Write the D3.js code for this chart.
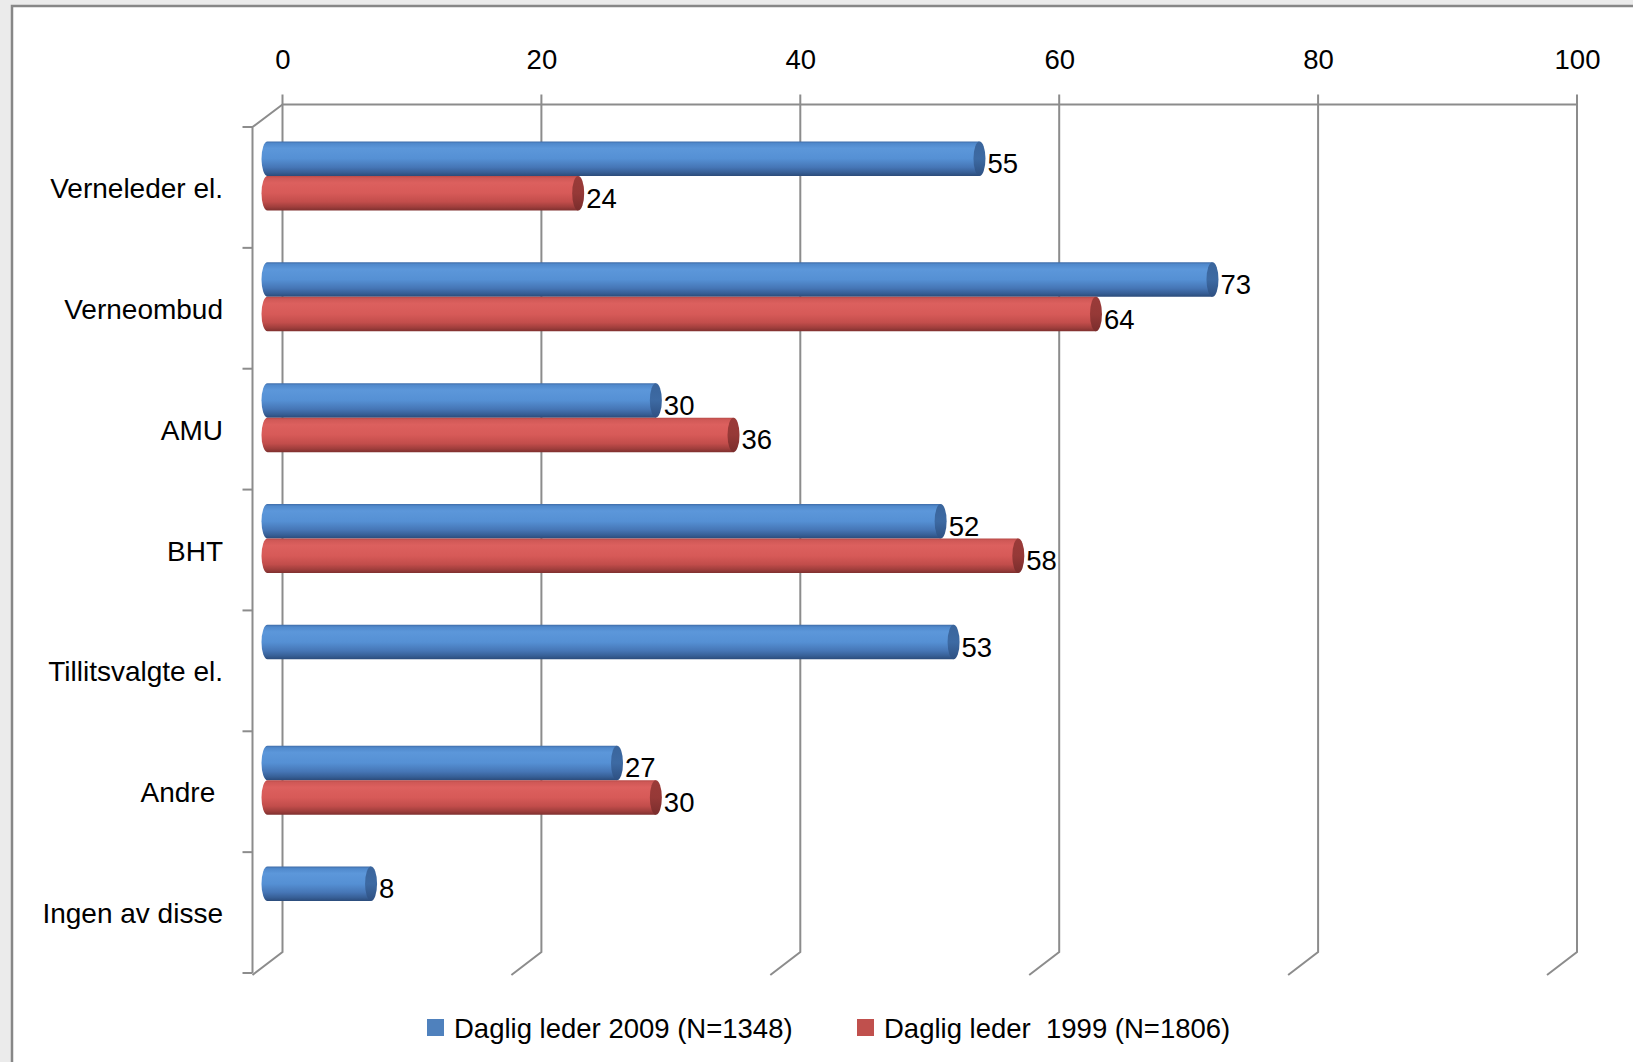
<!DOCTYPE html>
<html><head><meta charset="utf-8">
<script src="https://cdn.jsdelivr.net/npm/d3@7"></script>
<style>
html,body{margin:0;padding:0;background:#ebebeb;}
svg{display:block;}
text{font-family:"Liberation Sans",Arial,sans-serif;fill:#000;}
</style></head>
<body>
<svg id="chart" width="1633" height="1062"></svg>
<script>
// ---- data ----
const categories = ["Verneleder el.", "Verneombud", "AMU", "BHT", "Tillitsvalgte el.", "Andre ", "Ingen av disse"];
const seriesNames = ["Daglig leder 2009 (N=1348)", "Daglig leder\u00a0\u00a01999 (N=1806)"];
const values2009 = [55, 73, 30, 52, 53, 27, 8];
const values1999 = [24, 64, 36, 58, null, 30, null];
const xTicks = [0, 20, 40, 60, 80, 100];

const svg = d3.select("#chart");
// chart area
svg.append("rect").attr("x", 12).attr("y", 6).attr("width", 1700).attr("height", 1100)
  .attr("fill", "#fff").attr("stroke", "#878787").attr("stroke-width", 2.5);

const depthX = -30, depthY = 23;
const x = d3.scaleLinear().domain([0, 100]).range([282.5, 1577]);
const yBand = d3.scaleBand().domain(categories).range([127, 973]).padding(0);
const topY = 104.5, bottomY = 952;
const grid = "#8c8c8c";

// back plane gridlines + floor diagonals
const g = svg.append("g");
xTicks.forEach(t => {
  const xx = x(t);
  g.append("path").attr("d", `M${xx},${topY - 10}L${xx},${bottomY}L${xx + depthX},${bottomY + depthY}`)
    .attr("fill", "none").attr("stroke", grid).attr("stroke-width", 2);
});
// top line of back plane
g.append("line").attr("x1", x(0)).attr("x2", x(100)).attr("y1", topY).attr("y2", topY)
  .attr("stroke", grid).attr("stroke-width", 2);
// left wall front edge
const fx = x(0) + depthX;
g.append("path").attr("d", `M${x(0)},${topY}L${fx},${topY - depthY + 45.5}L${fx},${bottomY + depthY - 2}`)
  .attr("fill", "none").attr("stroke", grid).attr("stroke-width", 2);
// category boundary ticks
const bounds = categories.map(c => yBand(c)).concat([yBand.range()[1]]);
bounds.forEach(b => {
  g.append("line").attr("x1", fx - 10).attr("x2", fx).attr("y1", b).attr("y2", b)
    .attr("stroke", grid).attr("stroke-width", 2);
});

// top axis labels
const axis = d3.axisTop(x).tickValues(xTicks).tickSize(0).tickPadding(36).tickFormat(d3.format("d"));
const ax = svg.append("g").attr("transform", `translate(0,${topY})`).call(axis);
ax.select(".domain").remove();
ax.selectAll("text").style("font-size", "27.5px").style("font-family", "Liberation Sans, Arial, sans-serif").attr("fill", "#000");

// category labels
svg.append("g").selectAll("text").data(categories).join("text")
  .attr("x", 223).attr("y", d => yBand(d) + yBand.bandwidth() / 2 + 1)
  .attr("text-anchor", "end").attr("dominant-baseline", "central")
  .style("font-size", "28px").style("white-space", "pre")
  .text(d => d);

// gradients
const defs = svg.append("defs");
function grad(id, stops) {
  const lg = defs.append("linearGradient").attr("id", id).attr("x1", 0).attr("y1", 0).attr("x2", 0).attr("y2", 1);
  stops.forEach(([o, c]) => lg.append("stop").attr("offset", o).attr("stop-color", c));
}
grad("bodyBlue", [[0, "#3f6ca8"], [0.06, "#5089cc"], [0.2, "#5c97da"], [0.5, "#5590d4"], [0.75, "#4676b6"], [0.9, "#375f96"], [1, "#2b4b7a"]]);
grad("capBlue", [[0, "#3a659c"], [0.5, "#3d6aa3"], [1, "#2e5082"]]);
grad("bodyRed", [[0, "#b84a48"], [0.06, "#cf5856"], [0.2, "#dc605e"], [0.5, "#d75a58"], [0.75, "#c24d4b"], [0.9, "#9f3e3c"], [1, "#7f302f"]]);
grad("capRed", [[0, "#9a3b39"], [0.5, "#963937"], [1, "#7a2d2c"]]);
const bodyFill = ["url(#bodyBlue)", "url(#bodyRed)"];
const capFill = ["url(#capBlue)", "url(#capRed)"];
const legendFill = ["#4f81bd", "#c0504d"];

// bars (mid depth)
const midX = depthX / 2, midY = depthY / 2;
const groupH = 69;
const inner = d3.scaleBand().domain([0, 1]).range([0, groupH]);
const rx = 6;
const barsG = svg.append("g");
const series = [values2009, values1999];
const rows = [];
categories.forEach((c, i) => {
  series.forEach((s, si) => {
    if (s[i] != null) rows.push({ c, si, v: s[i] });
  });
});
rows.forEach(r => {
  const yTop = yBand(r.c) - midY + (yBand.bandwidth() - groupH) / 2 + inner(r.si);
  const h = inner.bandwidth();
  const x0 = x(0) + midX, xv = x(r.v) + midX;
  const gg = barsG.append("g");
  gg.append("path")
    .attr("d", `M${x0},${yTop}L${xv},${yTop}L${xv},${yTop + h}L${x0},${yTop + h}A${rx},${h / 2} 0 0 1 ${x0},${yTop}Z`)
    .attr("fill", bodyFill[r.si]);
  gg.append("ellipse").attr("cx", xv).attr("cy", yTop + h / 2).attr("rx", rx).attr("ry", h / 2)
    .attr("fill", capFill[r.si]);
  gg.append("text").attr("x", xv + rx + 2).attr("y", yTop + h / 2 + 5)
    .attr("dominant-baseline", "central").style("font-size", "27.5px").text(r.v);
});

// legend
const leg = svg.append("g");
const legX = [427, 857];
seriesNames.forEach((n, i) => {
  leg.append("rect").attr("x", legX[i]).attr("y", 1019).attr("width", 17).attr("height", 17).attr("fill", legendFill[i]);
  leg.append("text").attr("x", legX[i] + 27).attr("y", 1028).attr("dominant-baseline", "central")
    .style("font-size", "27.5px").text(n);
});
</script>
</body></html>
